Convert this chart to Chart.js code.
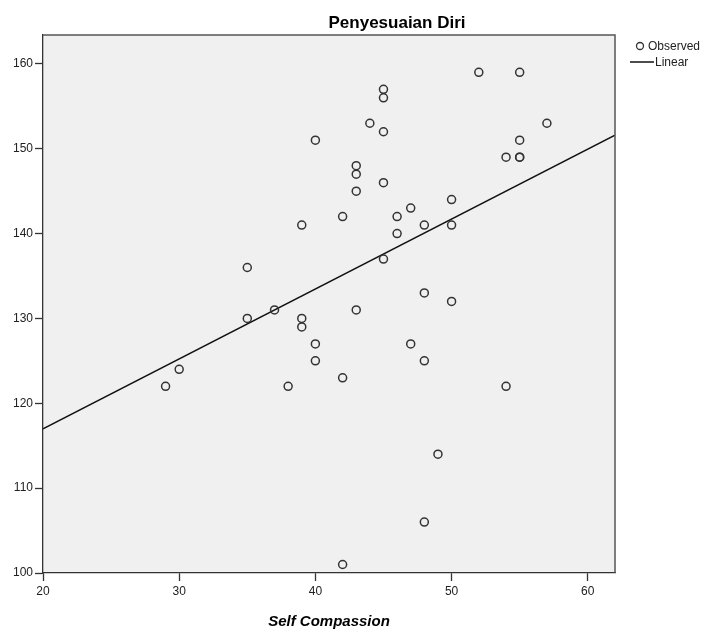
<!DOCTYPE html>
<html>
<head>
<meta charset="utf-8">
<script src="https://cdn.jsdelivr.net/npm/chart.js@4"></script>
<style>
  body { margin: 0; background: #fff; }
  #wrap { width: 724px; height: 631px; }
</style>
</head>
<body>
<div id="wrap"><canvas id="myChart" width="724" height="631"></canvas></div>
<script>
// donnees
const selfCompassion = [29, 30, 35, 35, 37, 38, 39, 39, 39, 40, 40, 40, 42, 42, 42, 43, 43, 43, 43, 44, 45, 45, 45, 45, 45, 46, 46, 47, 47, 48, 48, 48, 48, 49, 50, 50, 50, 52, 54, 54, 55, 55, 55, 55, 57];
const penyesuaian = [122, 124, 136, 130, 131, 122, 141, 130, 129, 151, 127, 125, 142, 123, 101, 148, 147, 145, 131, 153, 157, 156, 152, 146, 137, 142, 140, 143, 127, 141, 133, 125, 106, 114, 144, 141, 132, 159, 149, 122, 159, 151, 149, 149, 153];
// droite de regression (extremites)
const lineX = [20, 62];
const lineY = [117.0, 151.6];
const xTicks = [20, 30, 40, 50, 60];
const yTicks = [100, 110, 120, 130, 140, 150, 160];

const observed = selfCompassion.map((x, i) => ({ x: x, y: penyesuaian[i] }));
const linear = lineX.map((x, i) => ({ x: x, y: lineY[i] }));

// fond gris + cadre + titre + legende
const spssPlugin = {
  id: "spss",
  beforeDraw(chart) {
    const { ctx, chartArea: a } = chart;
    ctx.save();
    ctx.fillStyle = "#f0f0f0";
    ctx.fillRect(a.left, a.top, a.right - a.left, a.bottom - a.top);
    ctx.restore();
  },
  afterDraw(chart) {
    const { ctx, chartArea: a } = chart;
    ctx.save();
    ctx.strokeStyle = "#555";
    ctx.lineWidth = 1.5;
    ctx.beginPath();
    ctx.moveTo(a.left, a.top);
    ctx.lineTo(a.right, a.top);
    ctx.lineTo(a.right, a.bottom);
    ctx.stroke();

    // titre
    ctx.fillStyle = "#000";
    ctx.font = "bold 17px 'Liberation Sans', Arial, sans-serif";
    ctx.textAlign = "center";
    ctx.textBaseline = "middle";
    ctx.fillText("Penyesuaian Diri", 397, 23);

    // legende
    ctx.font = "12px 'Liberation Sans', Arial, sans-serif";
    ctx.textAlign = "left";
    ctx.fillStyle = "#222";
    ctx.strokeStyle = "#333";
    ctx.lineWidth = 1.3;
    ctx.beginPath();
    ctx.arc(640, 46, 3.5, 0, Math.PI * 2);
    ctx.stroke();
    ctx.fillText("Observed", 648, 47);
    ctx.strokeStyle = "#111";
    ctx.lineWidth = 1.5;
    ctx.beginPath();
    ctx.moveTo(630, 62);
    ctx.lineTo(654, 62);
    ctx.stroke();
    ctx.fillText("Linear", 655, 63);
    ctx.restore();
  },
};

const config = {
  type: "scatter",
  data: {
    datasets: [
      {
        label: "Observed",
        data: observed,
        pointRadius: 4,
        pointBorderWidth: 1.5,
        borderColor: "#333",
        backgroundColor: "rgba(0,0,0,0)",
        showLine: false,
      },
      {
        label: "Linear",
        data: linear,
        showLine: true,
        pointRadius: 0,
        borderColor: "#111",
        borderWidth: 1.5,
      },
    ],
  },
  options: {
    responsive: false,
    animation: false,
    layout: { padding: { top: 35, right: 109, left: 0, bottom: 0 } },
    plugins: {
      legend: { display: false },
      title: { display: false },
      tooltip: { enabled: false },
    },
    scales: {
      x: {
        type: "linear",
        min: 20,
        max: 62,
        afterFit: (s) => { s.height = 58; },
        afterBuildTicks: (s) => { s.ticks = xTicks.map((v) => ({ value: v })); },
        ticks: { color: "#222", padding: 3, font: { family: "'Liberation Sans', Arial", size: 12 } },
        grid: { drawOnChartArea: false, drawTicks: true, tickLength: 8, color: "#333", tickWidth: 1.3 },
        border: { display: true, color: "#333", width: 1.3 },
        title: {
          display: true,
          text: "Self Compassion",
          color: "#000",
          padding: { top: 0, bottom: 0 },
          font: { family: "'Liberation Sans', Arial", size: 15, weight: "bold", style: "italic" },
        },
      },
      y: {
        type: "linear",
        min: 100,
        max: 163.4,
        afterFit: (s) => { s.width = 43; },
        afterBuildTicks: (s) => { s.ticks = yTicks.map((v) => ({ value: v })); },
        ticks: { color: "#222", padding: 2, font: { family: "'Liberation Sans', Arial", size: 12 } },
        grid: { drawOnChartArea: false, drawTicks: true, tickLength: 8, color: "#333", tickWidth: 1.3 },
        border: { display: true, color: "#333", width: 1.3 },
      },
    },
  },
  plugins: [spssPlugin],
};

let context = document.getElementById("myChart").getContext("2d");
let chart = new Chart(context, config);
</script>
</body>
</html>
